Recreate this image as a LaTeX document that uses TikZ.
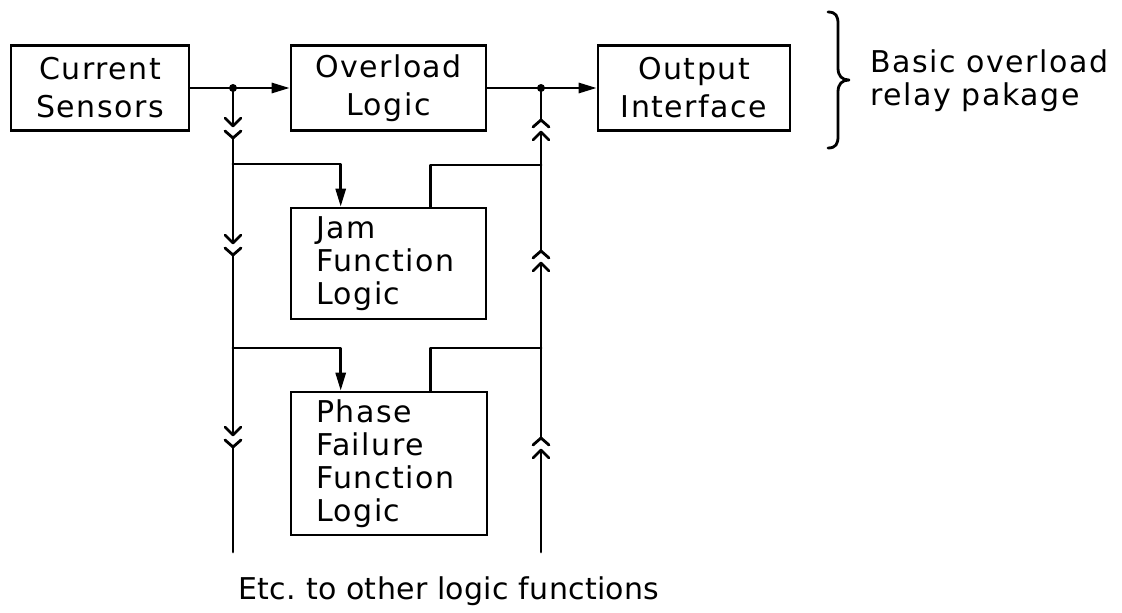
\documentclass[tikz,border=0pt]{standalone}
\usepackage{fontspec}
\usetikzlibrary{arrows.meta,calc}
\newfontfamily\lblfont[LetterSpace=5]{DejaVu Sans}
\newfontfamily\plainfont[LetterSpace=1]{DejaVu Sans}
\begin{document}
\begin{tikzpicture}[x=1pt,y=-1pt,
  conn/.style={line width=2.8pt,line cap=round,line join=round},
  arr/.style={conn,-{Triangle[length=18pt,width=10pt]}},
  blockbox/.style={draw,line width=2.6pt,inner sep=0pt,align=center,
    font=\lblfont\fontsize{30}{38}\selectfont},
  listbox/.style={draw,line width=2.6pt,inner xsep=25pt,inner ysep=0pt,align=left,
    font=\lblfont\fontsize{30}{33}\selectfont},
  plugdn/.pic={\draw[conn] (-8,-12) -- (0,-4) -- (8,-12);
               \draw[conn] (-8,1) -- (0,8) -- (8,1);},
  plugup/.pic={\draw[conn] (-8,-1) -- (0,-8) -- (8,-1);
               \draw[conn] (-8,12) -- (0,4) -- (8,12);}
]
\fill[white] (0,0) rectangle (1122,613);
\useasboundingbox (0,0) rectangle (1122,613);

% blocks
\node[blockbox,minimum width=178pt,minimum height=85pt] (cs) at (100,88) {Current\\Sensors};
\node[blockbox,minimum width=195pt,minimum height=85pt] (ol) at (388.5,88) {Overload\\Logic};
\node[blockbox,minimum width=192pt,minimum height=85pt] (oi) at (694,88) {Output\\Interface};
\node[listbox,text width=145pt,minimum height=111pt] (jam) at (388.5,263.5) {Jam\\Function\\Logic};
\node[listbox,text width=146pt,minimum height=143pt] (ph) at (389,463.5) {Phase\\Failure\\Function\\Logic};

% junction and path coordinates
\coordinate (J1) at (233,88);
\coordinate (J2) at (541,88);
% left bus
\coordinate (L1t) at (233,126); \coordinate (L1b) at (233,138);
\coordinate (B1) at (233,164);
\coordinate (L2t) at (233,243); \coordinate (L2b) at (233,255);
\coordinate (B2) at (233,348);
\coordinate (L3t) at (233,435); \coordinate (L3b) at (233,447);
\coordinate (Lend) at (233,552);
% right bus
\coordinate (R1t) at (541,120); \coordinate (R1b) at (541,132);
\coordinate (B3) at (541,165);
\coordinate (R2t) at (541,251); \coordinate (R2b) at (541,263);
\coordinate (B4) at (541,348);
\coordinate (R3t) at (541,438); \coordinate (R3b) at (541,450);
\coordinate (Rend) at (541,552);

% main signal path
\draw[conn] (cs.east) -- (J1);
\draw[arr] (J1) -- (ol.west);
\draw[conn] (ol.east) -- (J2);
\draw[arr] (J2) -- (oi.west);
\fill (J1) circle[radius=4pt];
\fill (J2) circle[radius=4pt];

% left bus with plug connectors
\draw[conn] (J1) -- (L1t) (L1b) -- (L2t) (L2b) -- (L3t) (L3b) -- (Lend);
\pic at (233,130) {plugdn};
\pic at (233,247) {plugdn};
\pic at (233,439) {plugdn};

% right bus with plug connectors
\draw[conn] (J2) -- (R1t) (R1b) -- (R2t) (R2b) -- (R3t) (R3b) -- (Rend);
\pic at (541,128) {plugup};
\pic at (541,259) {plugup};
\pic at (541,446) {plugup};

% branches to and from the function blocks
\draw[arr] (B1) -| ([xshift=51pt]jam.north west);
\draw[conn] ([xshift=141pt]jam.north west) |- (B3);
\draw[arr] (B2) -| ([xshift=51pt]ph.north west);
\draw[conn] ([xshift=141pt]ph.north west) |- (B4);

% brace and labels
\draw[conn] (828,12) .. controls (836,12) and (838,16) .. (838,24)
  -- (838,68) .. controls (838,76) and (842,80) .. (849,80)
  .. controls (842,80) and (838,84) .. (838,92)
  -- (838,136) .. controls (838,144) and (836,148) .. (828,148);
\node[anchor=west,inner sep=0pt,align=left,font=\lblfont\fontsize{30}{33}\selectfont] (pkg) at (870,81) {Basic overload\\relay pakage};
\node[inner sep=0pt,font=\plainfont\fontsize{30}{36}\selectfont] (etc) at (449,591) {Etc.\ to other logic functions};
\end{tikzpicture}
\end{document}
